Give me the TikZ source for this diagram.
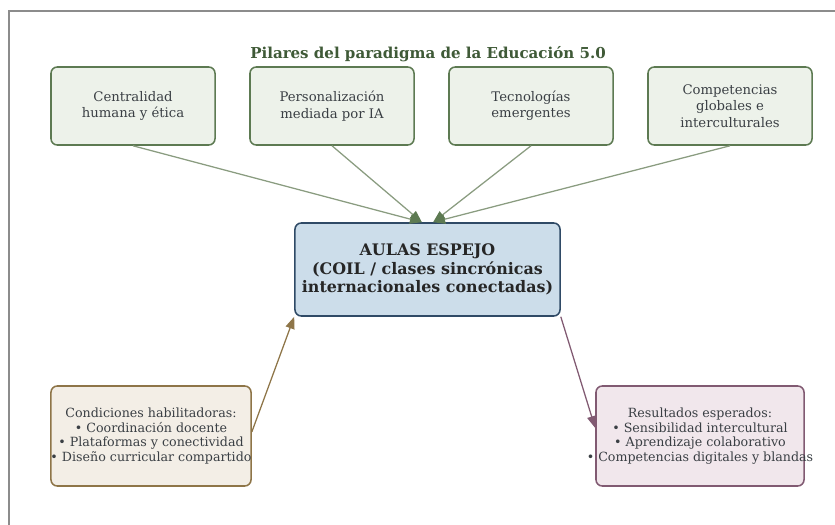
\documentclass[tikz,border=0pt]{standalone}
\usepackage{fontspec}
\setmainfont{DejaVu Serif}
\usetikzlibrary{arrows.meta}
\definecolor{framegray}{HTML}{8C8C8C}
\definecolor{pilarfill}{HTML}{EDF2EA}
\definecolor{pilarline}{HTML}{5D7A52}
\definecolor{pilararrow}{HTML}{8A9C80}
\definecolor{titlegreen}{HTML}{3F5A37}
\definecolor{aulafill}{HTML}{CCDDEA}
\definecolor{aulaline}{HTML}{2F4A66}
\definecolor{condfill}{HTML}{F3EEE6}
\definecolor{condline}{HTML}{8E7548}
\definecolor{resfill}{HTML}{F1E7EC}
\definecolor{resline}{HTML}{815A72}
\definecolor{textgray}{HTML}{3A3F44}

\begin{document}
\begin{tikzpicture}[x=0.025cm,y=-0.025cm,
	box/.style={rounded corners=4.5pt,line width=1.1pt,align=center,inner sep=0pt},
	pilar/.style={box,draw=pilarline,fill=pilarfill,text=textgray,minimum width=4.1cm,minimum height=1.95cm,font=\fontsize{9.4}{11.6}\selectfont},
	lista/.style={align=center,inner sep=0pt,text=textgray,font=\fontsize{9}{10.5}\selectfont},
	link/.style={line width=0.9pt,-{Triangle[length=8.5pt,width=6.5pt]}}]
	\useasboundingbox (0,0) rectangle (835,525);
	\draw[framegray,line width=1.1pt] (9,540) -- (9,11) -- (850,11);
	\node[text=titlegreen,font=\bfseries\fontsize{10.7}{13}\selectfont] (titulo) at (428,54) {Pilares del paradigma de la Educación 5.0};
	\node[pilar] (p1) at (133,106) {Centralidad\\humana y ética};
	\node[pilar] (p2) at (332,106) {Personalización\\mediada por IA};
	\node[pilar] (p3) at (531,106) {Tecnologías\\emergentes};
	\node[pilar] (p4) at (730,106) {Competencias\\globales e\\interculturales};
	\node[box,draw=aulaline,fill=aulafill,text=black!85,minimum width=6.625cm,minimum height=2.325cm,font=\bfseries\fontsize{11.3}{13.2}\selectfont] (aulas) at (427.5,269.5) {AULAS ESPEJO\\(COIL / clases sincrónicas\\internacionales conectadas)};
	\node[box,draw=condline,fill=condfill,minimum width=5cm,minimum height=2.5cm] (cond) at (151,436) {};
	\node[lista] (condtexto) at (cond.center) {Condiciones habilitadoras:\\• Coordinación docente\\• Plataformas y conectividad\\• Diseño curricular compartido};
	\node[box,draw=resline,fill=resfill,minimum width=5.2cm,minimum height=2.5cm] (res) at (700,436) {};
	\node[lista] (restexto) at (res.center) {Resultados esperados:\\• Sensibilidad intercultural\\• Aprendizaje colaborativo\\• Competencias digitales y blandas};
	\coordinate (entraL) at ([xshift=-0.14cm]aulas.north);
	\coordinate (entraR) at ([xshift=0.14cm]aulas.north);
	\draw[link,pilararrow,-{Triangle[length=8.5pt,width=6.5pt,color=pilarline]}] (p1.south) -- (entraL);
	\draw[link,pilararrow,-{Triangle[length=8.5pt,width=6.5pt,color=pilarline]}] (p2.south) -- (entraL);
	\draw[link,pilararrow,-{Triangle[length=8.5pt,width=6.5pt,color=pilarline]}] (p3.south) -- (entraR);
	\draw[link,pilararrow,-{Triangle[length=8.5pt,width=6.5pt,color=pilarline]}] (p4.south) -- (entraR);
	\draw[link,condline] ([yshift=0.1cm]cond.east) -- (aulas.south west);
	\draw[link,resline] (aulas.south east) -- ([yshift=0.2cm]res.west);
\end{tikzpicture}
\end{document}
